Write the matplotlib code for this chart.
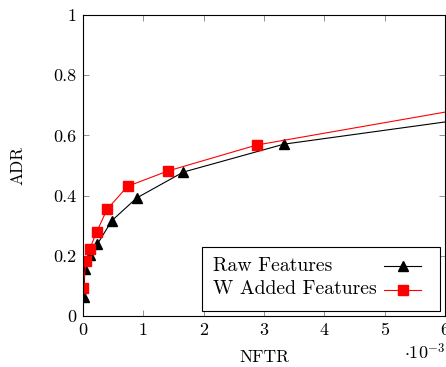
import matplotlib
matplotlib.use("Agg")
import matplotlib.pyplot as plt
from matplotlib.lines import Line2D
from matplotlib.patches import Rectangle

plt.rcParams["font.family"] = "serif"
plt.rcParams["font.serif"] = ["cmr10", "DejaVu Serif"]
plt.rcParams["mathtext.fontset"] = "cm"
plt.rcParams["axes.formatter.use_mathtext"] = True

# NFTR in units of 1e-3
raw_x = [0.01, 0.033, 0.116, 0.237, 0.475, 0.889, 1.66, 3.33, 6.66]
raw_y = [0.062, 0.155, 0.203, 0.238, 0.316, 0.392, 0.478, 0.571, 0.663]
w_x = [0.005, 0.05, 0.116, 0.227, 0.402, 0.74, 1.41, 2.876, 6.5]
w_y = [0.094, 0.183, 0.224, 0.280, 0.355, 0.431, 0.482, 0.568, 0.695]

xticks = [0, 1, 2, 3, 4, 5, 6]
yticks = [0, 0.2, 0.4, 0.6, 0.8, 1]
ytick_labels = ["0", "0.2", "0.4", "0.6", "0.8", "1"]

FS = 13

fig = plt.figure(figsize=(4.46, 3.67), dpi=100)
ax = fig.add_axes([0.186, 0.139, 0.812, 0.82])

ax.plot(raw_x, raw_y, "-^", color="black", lw=0.8, ms=6.5, label="Raw Features")
ax.plot(w_x, w_y, "-s", color="red", lw=0.8, ms=6.5, label="W Added Features")

ax.set_xlim(0, 6)
ax.set_ylim(0, 1)
ax.set_xticks(xticks)
ax.set_xticklabels([str(t) for t in xticks])
ax.set_yticks(yticks)
ax.set_yticklabels(ytick_labels)
ax.tick_params(direction="in", length=4, width=0.6, color="0.5",
               labelsize=FS, top=True, right=True, pad=5)
for s in ax.spines.values():
    s.set_linewidth(0.8)

ax.set_xlabel("NFTR", fontsize=12.5, labelpad=8)
ax.set_ylabel("ADR", fontsize=12.5, labelpad=20)
ax.text(1.0, -0.085, r"$\cdot 10^{-3}$", transform=ax.transAxes,
        ha="right", va="top", fontsize=FS)

# legend drawn by hand: text left-aligned, handles on the right (pgfplots style)
ax.add_patch(Rectangle((0.329, 0.017), 0.657, 0.212, transform=ax.transAxes,
                       facecolor="white", edgecolor="black", lw=0.8,
                       clip_on=False, zorder=5))
legend_rows = [("Raw Features", "black", "^", 0.166),
               ("W Added Features", "red", "s", 0.088)]
for label, col, mk, yy in legend_rows:
    ax.text(0.359, yy, label, transform=ax.transAxes, ha="left", va="center",
            fontsize=14.2, zorder=6)
    ax.add_line(Line2D([0.831, 0.934], [yy, yy], transform=ax.transAxes,
                       color=col, lw=0.8, zorder=6, clip_on=False))
    ax.add_line(Line2D([0.883], [yy], transform=ax.transAxes, color=col,
                       marker=mk, ms=6.5, zorder=7, clip_on=False))

fig.savefig("out.png", dpi=100)
